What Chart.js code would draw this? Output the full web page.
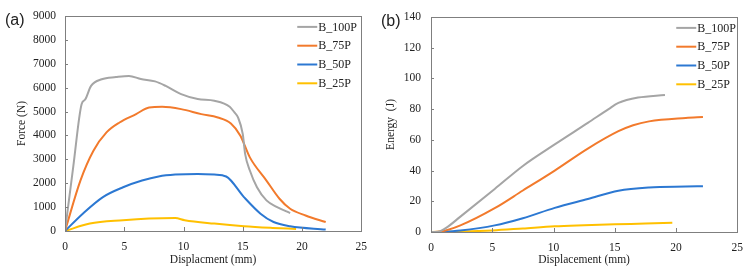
<!DOCTYPE html>
<html>
<head>
<meta charset="utf-8">
<script src="https://cdn.jsdelivr.net/npm/chart.js@4"></script>
<style>
  body { margin: 0; background: #fff; }
  #wrap { position: relative; width: 752px; height: 275px; }
  .pane { position: absolute; top: 0; width: 376px; height: 275px; }
  .tag { position: absolute; font-family: "Liberation Sans", Arial, sans-serif; font-size: 16px; color: #222; }
</style>
</head>
<body>
<div id="wrap">
  <div class="pane" style="left:0"><canvas id="chart-force" width="376" height="275"></canvas></div>
  <div class="pane" style="left:376px"><canvas id="chart-energy" width="376" height="275"></canvas></div>
  <div class="tag" style="left:5px;top:11px">(a)</div>
  <div class="tag" style="left:381px;top:12px">(b)</div>
</div>
<script>
/* ---- datos ---- */
const SERIES = ["B_100P", "B_75P", "B_50P", "B_25P"];
const COLORES = ["#A5A5A5", "#F27A2C", "#2C78D2", "#FFC000"];

// (a) fuerza vs desplazamiento
const F100_X = [0, 0.7, 1.4, 1.7, 2.2, 3.1, 4.3, 5.4, 6.4, 7.6, 8.5, 9.8, 11.2, 12.6, 13.9, 14.3, 14.6, 15.0, 15.2, 15.6, 16.2, 17.0, 17.9, 19.0];
const F100_Y = [0, 2700, 5300, 5500, 6070, 6350, 6440, 6490, 6360, 6260, 6070, 5725, 5520, 5450, 5200, 4960, 4750, 4060, 3230, 2530, 1830, 1280, 1000, 750];
const F75_X = [0, 1.3, 2.4, 3.5, 4.6, 6.0, 7.1, 8.2, 9.8, 11.5, 12.9, 14.0, 14.8, 15.6, 17.0, 18.1, 19.0, 20.3, 22.0];
const F75_Y = [0, 2110, 3360, 4125, 4540, 4890, 5170, 5196, 5100, 4890, 4750, 4500, 3990, 3080, 2110, 1350, 930, 650, 375];
const F50_X = [0, 1.5, 3.2, 4.9, 6.5, 7.9, 9.3, 11.2, 12.6, 13.6, 15.1, 16.5, 17.6, 19.0, 22.0];
const F50_Y = [0, 725, 1420, 1830, 2110, 2280, 2360, 2390, 2360, 2280, 1420, 725, 375, 200, 60];
const F25_X = [0, 2.1, 4.9, 7.1, 9.3, 10.1, 12.6, 15.1, 17.5, 19.5];
const F25_Y = [0, 310, 450, 520, 540, 450, 310, 200, 130, 85];

// (b) energía vs desplazamiento
const E100_X = [0, 0.5, 1.2, 2.4, 5.2, 7.5, 10.1, 12.8, 14.5, 15.3, 16.9, 19.1];
const E100_Y = [0, 0, 2.5, 10, 28, 43, 57, 71, 80, 84, 87.5, 89.2];
const E75_X = [0, 0.8, 2.4, 5.2, 7.5, 10.1, 12.8, 15.3, 16.5, 17.8, 20.8, 22.2];
const E75_Y = [0, 0.3, 4.3, 15.5, 27, 40, 54.3, 65.6, 69.5, 72, 74.2, 74.8];
const E50_X = [0, 1.0, 2.4, 5.2, 7.5, 10.1, 12.8, 15.3, 17.8, 20.8, 22.2];
const E50_Y = [0, 0.2, 1, 4.3, 9, 15.7, 21.5, 26.9, 29, 29.6, 29.8];
const E25_X = [0, 2.5, 5, 7.5, 10.1, 12.5, 15, 17.5, 19.7];
const E25_Y = [0, 0.3, 1, 2.3, 3.7, 4.4, 5, 5.5, 6.0];

const X_TICKS = [0, 5, 10, 15, 20, 25];
const FUENTE = "'Liberation Serif', 'Times New Roman', serif";

function puntos(xs, ys) {
    return xs.map((x, i) => ({ x, y: ys[i] }));
}

function armarDatasets(pares) {
    return pares.map((p, i) => ({
        label: SERIES[i],
        data: puntos(p[0], p[1]),
        borderColor: COLORES[i],
        backgroundColor: COLORES[i],
        borderWidth: 2,
        pointRadius: 0,
        cubicInterpolationMode: "monotone",
        fill: false
    }));
}

/* marco + ticks hacia dentro + leyenda */
const marcoPlugin = {
    id: "marco",
    afterDraw(chart, args, opts) {
        const { ctx, chartArea: a, scales } = chart;
        ctx.save();
        ctx.strokeStyle = "#7F7F7F";
        ctx.lineWidth = 1;
        ctx.strokeRect(Math.round(a.left) + 0.5, Math.round(a.top) + 0.5,
            Math.round(a.right - a.left), Math.round(a.bottom - a.top));

        ctx.beginPath();
        for (const t of scales.x.ticks) {
            const px = Math.round(scales.x.getPixelForValue(t.value)) + 0.5;
            ctx.moveTo(px, a.bottom);
            ctx.lineTo(px, a.bottom - 4);
        }
        for (const t of scales.y.ticks) {
            const py = Math.round(scales.y.getPixelForValue(t.value)) + 0.5;
            ctx.moveTo(a.left, py);
            ctx.lineTo(a.left + 3, py);
        }
        ctx.stroke();

        // leyenda
        ctx.font = "12px " + FUENTE;
        ctx.textBaseline = "middle";
        ctx.fillStyle = "#222";
        chart.data.datasets.forEach((ds, i) => {
            const y = a.top + 11 + i * 18.8;
            const x0 = a.right - opts.dx;
            ctx.strokeStyle = ds.borderColor;
            ctx.lineWidth = 2;
            ctx.beginPath();
            ctx.moveTo(x0, y);
            ctx.lineTo(x0 + 20, y);
            ctx.stroke();
            ctx.fillText(ds.label, x0 + 21, y + 0.5);
        });
        ctx.restore();
    }
};

function crearGrafico(id, datasets, cfg) {
    return new Chart(document.getElementById(id), {
        type: "line",
        data: { datasets },
        plugins: [marcoPlugin],
        options: {
            responsive: false,
            animation: false,
            layout: { padding: { left: 0, right: cfg.padRight, top: cfg.padTop, bottom: 0 } },
            plugins: {
                legend: { display: false },
                tooltip: { enabled: false },
                marco: { dx: cfg.legendDx }
            },
            scales: {
                x: {
                    type: "linear",
                    min: 0, max: 25,
                    afterBuildTicks: s => { s.ticks = X_TICKS.map(v => ({ value: v })); },
                    afterFit: s => { s.height = cfg.xHeight; },
                    grid: { display: false, drawTicks: false },
                    border: { display: false },
                    ticks: { color: "#222", padding: 9, font: { family: FUENTE, size: 11.5 }, callback: v => String(v) },
                    title: {
                        display: true, text: cfg.xTitle, color: "#222",
                        font: { family: FUENTE, size: 11.5 },
                        padding: { bottom: 8, top: 0 }
                    }
                },
                y: {
                    min: 0, max: cfg.yMax,
                    afterFit: s => { s.width = cfg.yWidth; },
                    grid: { display: false, drawTicks: false },
                    border: { display: false },
                    ticks: { color: "#222", padding: cfg.yTickPad, stepSize: cfg.yStep, font: { family: FUENTE, size: 11.5 }, callback: v => String(v) },
                    title: {
                        display: true, text: cfg.yTitle, color: "#222",
                        font: { family: FUENTE, size: 11.5 },
                        padding: { top: cfg.yTitlePad, bottom: 0 }
                    }
                }
            }
        }
    });
}

crearGrafico("chart-force", armarDatasets([
    [F100_X, F100_Y], [F75_X, F75_Y], [F50_X, F50_Y], [F25_X, F25_Y]
]), {
    yMax: 9000, yStep: 1000, yWidth: 65, xHeight: 44, padRight: 10, padTop: 14,
    yTickPad: 9, yTitlePad: 15.5, legendDx: 64,
    xTitle: "Displacment (mm)", yTitle: "Force (N)"
});

crearGrafico("chart-energy", armarDatasets([
    [E100_X, E100_Y], [E75_X, E75_Y], [E50_X, E50_Y], [E25_X, E25_Y]
]), {
    yMax: 140, yStep: 20, yWidth: 55, xHeight: 43, padRight: 14, padTop: 15,
    yTickPad: 10, yTitlePad: 8, legendDx: 61,
    xTitle: "Displacement (mm)", yTitle: "Energy  (J)"
});
</script>
</body>
</html>
